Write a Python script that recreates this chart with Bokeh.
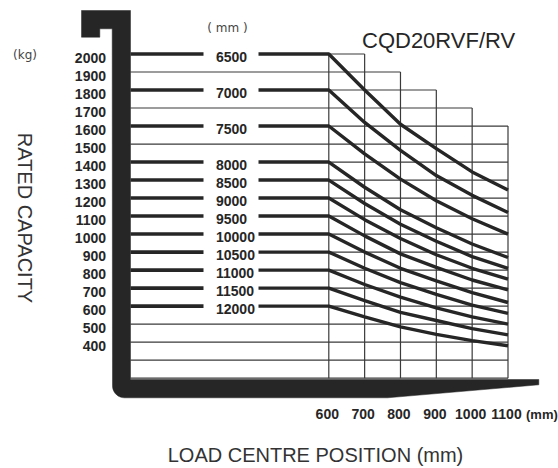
import math
from bokeh.plotting import figure
from bokeh.models import Range1d
from bokeh.core.properties import value
from bokeh.embed import file_html
from bokeh.resources import INLINE

# ---------------- data ----------------
LOAD_CENTRES = [600, 700, 800, 900, 1000, 1100]          # mm
X_TICK_LABELS = ["600", "700", "800", "900", "1000", "1100"]
Y_TICKS = [2000, 1900, 1800, 1700, 1600, 1500, 1400, 1300, 1200,
           1100, 1000, 900, 800, 700, 600, 500, 400]      # kg
MAST_LABELS = ["6500", "7000", "7500", "8000", "8500", "9000",
               "9500", "10000", "10500", "11000", "11500", "12000"]

cap_6500 = [2000, 1800, 1610, 1475, 1345, 1245]
cap_7000 = [1800, 1620, 1465, 1325, 1215, 1120]
cap_7500 = [1600, 1445, 1305, 1185, 1085, 1000]
cap_8000 = [1400, 1260, 1135, 1035, 945, 870]
cap_8500 = [1300, 1170, 1055, 960, 875, 810]
cap_9000 = [1200, 1080, 975, 885, 810, 750]
cap_9500 = [1100, 990, 890, 815, 745, 690]
cap_10000 = [1000, 900, 810, 740, 675, 620]
cap_10500 = [900, 810, 730, 665, 605, 560]
cap_11000 = [800, 720, 650, 590, 540, 500]
cap_11500 = [700, 630, 565, 520, 475, 440]
cap_12000 = [600, 540, 485, 443, 408, 380]

CAPACITIES = [cap_6500, cap_7000, cap_7500, cap_8000, cap_8500, cap_9000,
              cap_9500, cap_10000, cap_10500, cap_11000, cap_11500, cap_12000]

TITLE = "CQD20RVF/RV"

# ---------------- layout helpers ----------------
W, H = 558, 468
PX_PER_MM = 0.3584
PX_PER_KG = 0.18007
X600_PX = 328.3
Y2000_PX = 53.5


def X(px):
    return 600 + (px - X600_PX) / PX_PER_MM


def Y(py):
    return 2000 - (py - Y2000_PX) / PX_PER_KG


def DY(px):
    return px / PX_PER_KG


INK = "#262626"
GRID = "#3a3a3a"
SANS = value("Liberation Sans")

p = figure(width=W, height=H, output_backend="svg", toolbar_location=None,
           x_range=Range1d(X(0), X(W)), y_range=Range1d(Y(H), Y(0)),
           x_axis_type=None, y_axis_type=None, min_border=0)
p.outline_line_color = None
p.grid.visible = False
p.background_fill_color = "white"
p.border_fill_color = "white"

GRID_LEFT = X(130)
GRID_FLOOR = 200
rows = list(range(GRID_FLOOR, 2001, 100))
stair = {2000: 700, 1900: 800, 1800: 900, 1700: 1000}
series_rows = {c[0] for c in CAPACITIES}


def right_end(r):
    return stair.get(r, LOAD_CENTRES[-1])


# horizontal grid
hx0, hx1, hy = [], [], []
for r in rows:
    hx0.append(LOAD_CENTRES[0] if r in series_rows else GRID_LEFT)
    hx1.append(right_end(r))
    hy.append(r)
p.segment(x0=hx0, y0=hy, x1=hx1, y1=hy, line_color=GRID, line_width=1.2)

# vertical grid
vx, vtop = [], []
for lc in LOAD_CENTRES:
    vx.append(lc)
    vtop.append(max(r for r in rows if right_end(r) >= lc))
p.segment(x0=vx, y0=[GRID_FLOOR] * len(vx), x1=vx, y1=vtop,
          line_color=GRID, line_width=1.2)

# fork shape (decoration)
cx, cy, rad = 124.0, 385.3, 12.0
corner = [(cx - rad * math.sin(math.radians(a)), cy + rad * math.cos(math.radians(a)))
          for a in range(0, 91, 10)]
fork_px = ([(81, 10), (130, 10), (130, 379), (538.3, 379), (538.3, 384.3), (387, 397.3)]
           + corner
           + [(111.7, 28.3), (99.3, 28.3), (99.3, 36.7), (81, 36.7)])
p.patch([X(a) for a, b in fork_px], [Y(b) for a, b in fork_px],
        fill_color=INK, line_color=INK, line_width=0.5)

# capacity lines
gap_l, gap_r = X(203), X(258)
for cap in CAPACITIES:
    p.line([GRID_LEFT, gap_l], [cap[0], cap[0]], line_color=INK, line_width=3.6)
    p.line([gap_r] + LOAD_CENTRES, [cap[0]] + cap, line_color=INK,
           line_width=3.4, line_join="round")

# mast height labels
p.text(x=[X(215.5)] * len(MAST_LABELS), y=[c[0] - DY(3) for c in CAPACITIES],
       text=MAST_LABELS, text_font=SANS, text_font_size="14px",
       text_font_style="bold", text_color=INK, text_align="left",
       text_baseline="middle")

# y tick labels
p.text(x=[X(105.5)] * len(Y_TICKS), y=[t - DY(3.5) for t in Y_TICKS],
       text=[str(t) for t in Y_TICKS], text_font=SANS, text_font_size="14px",
       text_font_style="bold", text_color=INK, text_align="right",
       text_baseline="middle")

# x tick labels
p.text(x=[lc - 1.5 / PX_PER_MM for lc in LOAD_CENTRES], y=[Y(413.7)] * len(LOAD_CENTRES),
       text=X_TICK_LABELS, text_font=SANS, text_font_size="14px",
       text_font_style="bold", text_color=INK, text_align="center",
       text_baseline="middle")
p.text(x=[X(525.5)], y=[Y(413.7)], text=["(mm)"], text_font=SANS,
       text_font_size="13px", text_font_style="bold", text_color=INK,
       text_align="left", text_baseline="middle")

# title
p.text(x=[X(361.5)], y=[Y(40)], text=[TITLE], text_font=SANS,
       text_font_size="22px", text_color=INK, text_align="left",
       text_baseline="middle")

# unit captions
p.text(x=[X(24.5)], y=[Y(54)], text=["(kg)"], text_font=value("DejaVu Sans"),
       text_font_size="12px", text_color="#444444", text_align="center",
       text_baseline="middle")
p.text(x=[X(227)], y=[Y(27)], text=["( mm )"], text_font=value("DejaVu Sans"),
       text_font_size="12px", text_color="#444444", text_align="center",
       text_baseline="middle")

# axis titles
p.text(x=[X(24)], y=[Y(217.5)], text=["RATED CAPACITY"],
       text_font=SANS, text_font_size="20px",
       text_color="#333333", text_align="center", text_baseline="middle",
       angle=-math.pi / 2)
p.text(x=[X(315)], y=[Y(454)], text=["LOAD CENTRE POSITION (mm)"],
       text_font=SANS, text_font_size="20px",
       text_color="#333333", text_align="center", text_baseline="middle")

open("out.html", "w").write(file_html(p, INLINE))
